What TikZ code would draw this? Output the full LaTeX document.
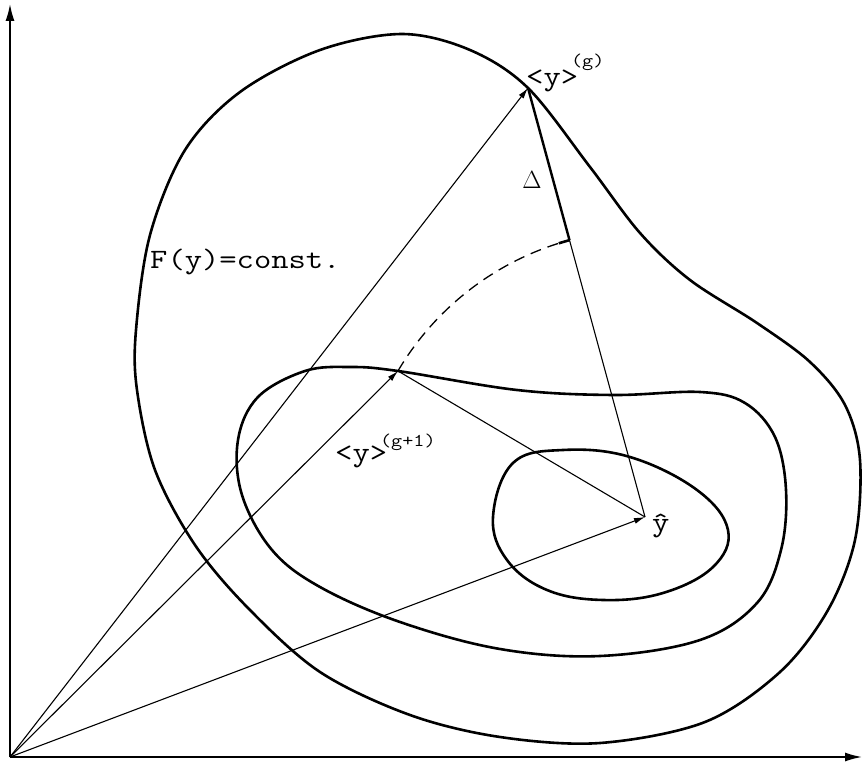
\documentclass[tikz,border=0pt]{standalone}
\usepackage{fontspec}
\usetikzlibrary{arrows.meta,calc}
\newcommand{\labtxt}[2][28]{\scalebox{1.2}[1]{\fontsize{#1}{#1}\ttfamily #2}}
\begin{document}
\begin{tikzpicture}[x=1pt,y=-1pt,
  curve/.style={line width=2.6pt, line join=round},
  vec/.style={line width=1.1pt, -{Latex[length=11pt,width=6pt]}},
  thinline/.style={line width=1.1pt},
  axis/.style={line width=1.6pt, -{Latex[length=17pt,width=9pt]}},
  lbl/.style={inner sep=0pt},
]
\useasboundingbox (0,0) rectangle (862,767);
% key points
\coordinate (O) at (10,757);
\coordinate (Ytop) at (10,4);
\coordinate (Xend) at (862,757);
\coordinate (G) at (528,88);
\coordinate (G1) at (398,371);
\coordinate (Yh) at (645,517);
\coordinate (T) at ($(Yh)!287pt!(G)$);
% axes
\draw[axis] (O) -- (Ytop);
\draw[axis] (O) -- (Xend);
% outer contour
\draw[curve] plot[smooth cycle, tension=0.55] coordinates {
 (528,88) (590,167) (640,233) (690,280) (757,323) (810,362) (845,405)
 (860,460) (855,540) (828,610) (780,672) (705,722) (600,743) (500,737)
 (410,715) (320,672) (248,608) (195,545) (155,470) (137,390) (136,330)
 (150,235) (185,150) (240,92) (320,50) (402,34) (470,50)};
% middle contour
\draw[curve] plot[smooth cycle, tension=0.6] coordinates {
 (398,371) (517,390) (613,395) (700,392) (745,403) (775,437) (786,490)
 (781,550) (757,603) (700,640) (600,656) (500,649) (400,622) (320,587)
 (272,550) (242,495) (238,440) (258,397) (305,371) (350,367)};
% inner contour
\draw[curve] plot[smooth cycle, tension=0.65] coordinates {
 (563,450) (630,457) (697,490) (728,530) (713,567) (663,593) (603,600)
 (547,590) (507,560) (493,517) (513,463)};
% vectors from origin
\draw[vec] (O) -- (G);
\draw[vec] (O) -- (G1);
\draw[vec] (O) -- (Yh);
% lines to optimum
\draw[thinline] (G1) -- (Yh);
\draw[thinline] (T) -- (Yh);
\draw[line width=2.4pt] (G) -- (T);
% dashed arc
\draw[line width=1.3pt, dash pattern=on 11pt off 7pt]
  plot[domain=-149.4:-106.5, samples=60] ({645+287*cos(\x)},{517+287*sin(\x)});
\draw[line width=2.6pt] ($(Yh)+({287*cos(-107.5)},{287*sin(-107.5)})$) -- (T);
% labels
\node[lbl, anchor=base west] (lg) at (526,86)
  {\labtxt{<y>}\hspace{-7pt}\raisebox{19pt}{\labtxt[18]{(g)}}};
\node[lbl, anchor=base west] (lg1) at (335,461)
  {\labtxt{<y>}\hspace{-7pt}\raisebox{15pt}{\labtxt[18]{(g+1)}}};
\node[lbl, anchor=base west] (lf) at (150,269) {\labtxt{F(y)=const.}};
\node[lbl, anchor=base west] (lyh) at (652,531) {\labtxt{ŷ}};
\node[inner sep=0pt] (ld) at (532,180) {\fontsize{25}{25}\selectfont$\Delta$};
\end{tikzpicture}
\end{document}
